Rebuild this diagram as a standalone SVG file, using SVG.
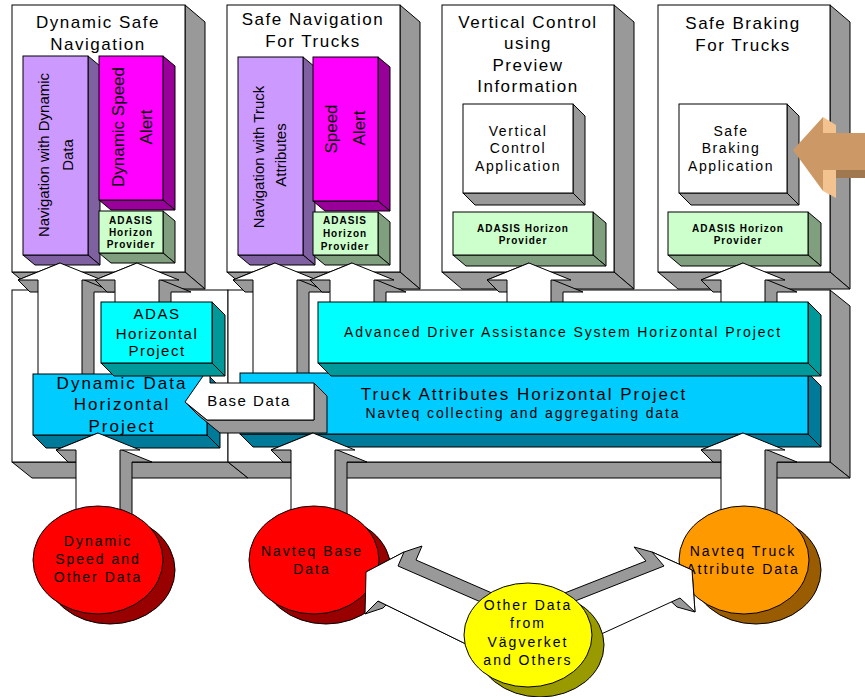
<svg xmlns="http://www.w3.org/2000/svg" width="865" height="697" viewBox="0 0 865 697">
<style>
polygon,rect,ellipse{stroke:#000;stroke-width:1}
.g{fill:#999}.w{fill:#fff}
.pu{fill:#CC99FF}.pud{fill:#7F60A0}
.mg{fill:#FF00FF}.mgd{fill:#990099}
.gr{fill:#CCFFCC}.grd{fill:#7F9F7F}
.cy{fill:#00FFFF}.cyd{fill:#009999}
.sk{fill:#00CCFF}.skd{fill:#007A99}
.br polygon{stroke:none}
text{font-family:"Liberation Sans",Arial,sans-serif;fill:#000;text-anchor:middle}
.ttl{font-size:17px;letter-spacing:1.5px}
.v15{font-size:15px}.v17{font-size:17px}
.ad{font-size:10px;font-weight:bold;letter-spacing:1px}
.app{font-size:14px;letter-spacing:1.6px}
.el{font-size:14px;letter-spacing:2px}
.h15{font-size:15px;letter-spacing:1.5px}
.h17{font-size:17px;letter-spacing:2px}
.h14{font-size:14px;letter-spacing:1.9px}
</style>
<defs>
<g id="upL"><polygon class="g" points="-42,17 0,0 12,12 54,29 34,29 34,142 -10,142 -10,29 -30,29"/><polygon class="w" points="0,0 42,17 22,17 22,130 -22,130 -22,17 -42,17"/></g>
<g id="upS"><polygon class="g" points="-42,17 0,0 12,12 54,29 34,29 34,72 -10,72 -10,29 -30,29"/><polygon class="w" points="0,0 42,17 22,17 22,60 -22,60 -22,17 -42,17"/></g>
<g id="upB"><polygon class="g" points="-42,17 0,0 12,12 54,29 34,29 34,104 -10,104 -10,29 -30,29"/><polygon class="w" points="0,0 42,17 22,17 22,92 -22,92 -22,17 -42,17"/></g>
</defs>

<!-- Panels -->
<g id="panel-dynamic-safe-navigation">
<polygon class="g" points="185,5 205,22 205,289 185,272"/>
<polygon class="g" points="12,272 185,272 205,289 32,289"/>
<rect class="w" x="12" y="5" width="173" height="267"/>
<text class="ttl" x="98" y="28">Dynamic Safe</text>
<text class="ttl" x="98" y="50">Navigation</text>
</g>
<g id="nav-dynamic-data">
<polygon class="pud" points="88,56 100,66 100,265 88,255"/>
<polygon class="pud" points="23,255 88,255 100,265 35,265"/>
<rect class="pu" x="23" y="56" width="65" height="199"/>
<text class="v15" transform="translate(49,155) rotate(-90)">Navigation with Dynamic</text>
<text class="v15" transform="translate(73,155) rotate(-90)">Data</text>
</g>
<g id="dynamic-speed-alert">
<polygon class="mgd" points="163,56 175,66 175,210 163,200"/>
<polygon class="mgd" points="99,200 163,200 175,210 111,210"/>
<rect class="mg" x="99" y="56" width="64" height="144"/>
<text class="v17" transform="translate(124,127) rotate(-90)">Dynamic Speed</text>
<text class="v17" transform="translate(152,127) rotate(-90)">Alert</text>
</g>
<g id="adasis-1">
<polygon class="grd" points="163,211 175,221 175,263 163,253"/>
<polygon class="grd" points="99,253 163,253 175,263 111,263"/>
<rect class="gr" x="99" y="211" width="64" height="42"/>
<text class="ad" x="131" y="224">ADASIS</text>
<text class="ad" x="131" y="236">Horizon</text>
<text class="ad" x="131" y="248">Provider</text>
</g>

<g id="panel-safe-navigation-trucks">
<polygon class="g" points="400,5 420,22 420,289 400,272"/>
<polygon class="g" points="227,272 400,272 420,289 247,289"/>
<rect class="w" x="227" y="5" width="173" height="267"/>
<text class="ttl" x="313" y="25">Safe Navigation</text>
<text class="ttl" x="313" y="47">For Trucks</text>
</g>
<g id="nav-truck-attributes">
<polygon class="pud" points="303,57 315,67 315,265 303,255"/>
<polygon class="pud" points="238,255 303,255 315,265 250,265"/>
<rect class="pu" x="238" y="57" width="65" height="198"/>
<text class="v15" transform="translate(264,157) rotate(-90)">Navigation with Truck</text>
<text class="v15" transform="translate(286,155) rotate(-90)">Attributes</text>
</g>
<g id="speed-alert">
<polygon class="mgd" points="378,57 390,67 390,211 378,201"/>
<polygon class="mgd" points="313,201 378,201 390,211 325,211"/>
<rect class="mg" x="313" y="57" width="65" height="144"/>
<text class="v17" transform="translate(337,129) rotate(-90)">Speed</text>
<text class="v17" transform="translate(365,128) rotate(-90)">Alert</text>
</g>
<g id="adasis-2">
<polygon class="grd" points="378,212 390,222 390,265 378,255"/>
<polygon class="grd" points="313,255 378,255 390,265 325,265"/>
<rect class="gr" x="313" y="212" width="65" height="43"/>
<text class="ad" x="345" y="224">ADASIS</text>
<text class="ad" x="345" y="237">Horizon</text>
<text class="ad" x="345" y="250">Provider</text>
</g>

<g id="panel-vertical-control">
<polygon class="g" points="614,5 634,22 634,289 614,272"/>
<polygon class="g" points="442,272 614,272 634,289 462,289"/>
<rect class="w" x="442" y="5" width="172" height="267"/>
<text class="ttl" x="528" y="28">Vertical Control</text>
<text class="ttl" x="528" y="49">using</text>
<text class="ttl" x="528" y="71">Preview</text>
<text class="ttl" x="528" y="92">Information</text>
</g>
<g id="vertical-control-application">
<polygon class="g" points="573,104 585,116 585,205 573,193"/>
<polygon class="g" points="463,193 573,193 585,205 475,205"/>
<rect class="w" x="463" y="104" width="110" height="89"/>
<text class="app" x="518" y="136">Vertical</text>
<text class="app" x="518" y="153">Control</text>
<text class="app" x="518" y="171">Application</text>
</g>
<g id="adasis-3">
<polygon class="grd" points="593,212 606,223 606,266 593,255"/>
<polygon class="grd" points="453,255 593,255 606,266 466,266"/>
<rect class="gr" x="453" y="212" width="140" height="43"/>
<text class="ad" x="523" y="232">ADASIS Horizon</text>
<text class="ad" x="523" y="244">Provider</text>
</g>

<g id="panel-safe-braking">
<polygon class="g" points="830,5 850,22 850,289 830,272"/>
<polygon class="g" points="658,272 830,272 850,289 678,289"/>
<rect class="w" x="658" y="5" width="172" height="267"/>
<text class="ttl" x="743" y="29">Safe Braking</text>
<text class="ttl" x="743" y="51">For Trucks</text>
</g>
<g id="safe-braking-application">
<polygon class="g" points="787,104 799,116 799,205 787,193"/>
<polygon class="g" points="679,193 787,193 799,205 691,205"/>
<rect class="w" x="679" y="104" width="108" height="89"/>
<text class="app" x="731" y="136">Safe</text>
<text class="app" x="731" y="153">Braking</text>
<text class="app" x="731" y="171">Application</text>
</g>
<g id="adasis-4">
<polygon class="grd" points="808,212 821,223 821,266 808,255"/>
<polygon class="grd" points="668,255 808,255 821,266 681,266"/>
<rect class="gr" x="668" y="212" width="140" height="43"/>
<text class="ad" x="738" y="232">ADASIS Horizon</text>
<text class="ad" x="738" y="244">Provider</text>
</g>

<!-- Frames -->
<g id="frame-left">
<polygon class="g" points="12,462 228,462 248,478 32,478"/>
<rect class="w" x="12" y="290" width="216" height="172"/>
</g>
<g id="frame-right">
<polygon class="g" points="830,290 850,306 850,478 830,462"/>
<polygon class="g" points="228,462 830,462 850,478 248,478"/>
<rect class="w" x="228" y="290" width="602" height="172"/>
</g>

<!-- Connectors up to panels -->
<g id="connectors-up">
<use href="#upL" transform="translate(60,263)"/>
<use href="#upS" transform="translate(137,263)"/>
<use href="#upL" transform="translate(275,263)"/>
<use href="#upS" transform="translate(352,263)"/>
<use href="#upS" transform="translate(529,263)"/>
<use href="#upS" transform="translate(743,263)"/>
</g>

<g id="dynamic-data-horizontal-project">
<polygon class="skd" points="207,374 220,387 220,448 207,435"/>
<polygon class="skd" points="33,435 207,435 220,448 46,448"/>
<rect class="sk" x="33" y="374" width="174" height="61"/>
<text class="h17" x="122" y="389">Dynamic Data</text>
<text class="h17" x="122" y="410">Horizontal</text>
<text class="h17" x="122" y="432">Project</text>
</g>
<g id="truck-attributes-horizontal-project">
<polygon class="skd" points="808,373 821,386 821,447 808,434"/>
<polygon class="skd" points="240,434 808,434 821,447 253,447"/>
<rect class="sk" x="240" y="373" width="568" height="61"/>
<text class="h17" x="524" y="400">Truck Attributes Horizontal Project</text>
<text class="h14" x="523" y="418">Navteq collecting and aggregating data</text>
</g>

<g id="connector-base-data">
<polygon class="g" points="185,402 207,420 314,420 314,383 327,396 327,433 220,433 198,415"/>
<polygon class="w" points="185,402 210,366 210,383 314,383 314,420 207,420"/>
<text class="h15" x="249" y="406">Base Data</text>
</g>

<g id="adas-horizontal-project">
<polygon class="cyd" points="212,302 225,315 225,376 212,363"/>
<polygon class="cyd" points="101,363 212,363 225,376 114,376"/>
<rect class="cy" x="101" y="302" width="111" height="61"/>
<text class="h15" x="157" y="319">ADAS</text>
<text class="h15" x="157" y="339">Horizontal</text>
<text class="h15" x="157" y="356">Project</text>
</g>
<g id="adas-system-horizontal-project">
<polygon class="cyd" points="808,302 821,315 821,376 808,363"/>
<polygon class="cyd" points="318,363 808,363 821,376 331,376"/>
<rect class="cy" x="318" y="302" width="490" height="61"/>
<text class="h14" x="563" y="337">Advanced Driver Assistance System Horizontal Project</text>
</g>

<!-- Connectors from sources -->
<g id="connectors-sources">
<use href="#upB" transform="translate(98,433)"/>
<use href="#upB" transform="translate(313,433)"/>
<use href="#upB" transform="translate(743,433)"/>
</g>

<g id="dynamic-speed-other-data">
<ellipse cx="110" cy="570" rx="65" ry="54" fill="#990000"/>
<ellipse cx="98" cy="560" rx="65" ry="54" fill="#FF0000"/>
<text class="el" x="98" y="546">Dynamic</text>
<text class="el" x="98" y="564">Speed and</text>
<text class="el" x="98" y="582">Other Data</text>
</g>
<g id="navteq-base-data">
<ellipse cx="326" cy="570" rx="65" ry="54" fill="#990000"/>
<ellipse cx="314" cy="560" rx="65" ry="54" fill="#FF0000"/>
<text class="el" x="312" y="556">Navteq Base</text>
<text class="el" x="312" y="574">Data</text>
</g>
<g id="navteq-truck-attribute-data">
<ellipse cx="756" cy="570" rx="65" ry="54" fill="#995C00"/>
<ellipse cx="744" cy="560" rx="65" ry="54" fill="#FF9900"/>
<text class="el" x="743" y="556">Navteq Truck</text>
<text class="el" x="743" y="574">Attribute Data</text>
</g>

<g id="connectors-other-data">
<polygon class="g" points="366,572 404,552 422,546 416,560 508,600 488,640 470,646 378,601 365,614 383,608 396,595"/>
<polygon class="w" points="366,572 404,552 398,566 490,606 470,646 378,601 365,614"/>
<polygon class="g" points="552,598 646,561 634,547 652,552 692,570 695,612 677,607 662,593 557,641"/>
<polygon class="w" points="570,603 664,566 652,552 692,570 695,612 680,598 575,646"/>
</g>

<g id="other-data-vagverket">
<ellipse cx="540" cy="645" rx="64" ry="52" fill="#999900"/>
<ellipse cx="528" cy="635" rx="64" ry="52" fill="#FFFF00"/>
<text class="el" x="528" y="610">Other Data</text>
<text class="el" x="528" y="628">from</text>
<text class="el" x="528" y="647">Vägverket</text>
<text class="el" x="528" y="665">and Others</text>
</g>

<g id="connector-input-braking" class="br">
<polygon fill="#F2C28F" points="823,117 836,125 836,134 823,134"/>
<polygon fill="#F2C28F" points="823,169 836,169 836,198 823,191"/>
<polygon fill="#A07850" points="836,170 865,170 865,178 836,178"/>
<polygon fill="#CC9966" points="793,150 823,117 823,133 865,133 865,170 823,170 823,191"/>
</g>
</svg>
